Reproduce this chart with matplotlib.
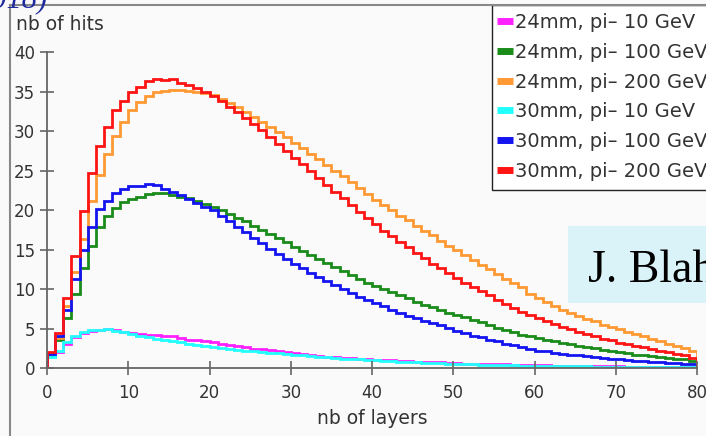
import numpy as np
import matplotlib
matplotlib.use("Agg")
import matplotlib.pyplot as plt
from matplotlib.lines import Line2D
from matplotlib.patches import Rectangle

W, H = 706, 436

# ── histogram contents (nb of hits per layer, 80 layers) ──
edges = np.arange(0, 81)

h24_10 = [1.5, 2.0, 3.1, 3.9, 4.4, 4.65, 4.8, 4.9, 4.75, 4.6,
          4.4, 4.3, 4.2, 4.2, 4.1, 4.0, 3.8, 3.6, 3.5, 3.4,
          3.3, 3.1, 2.9, 2.8, 2.6, 2.45, 2.4, 2.25, 2.1, 2.0,
          1.85, 1.75, 1.65, 1.55, 1.45, 1.4, 1.3, 1.25, 1.2, 1.1,
          1.05, 1.0, 0.95, 0.9, 0.85, 0.8, 0.75, 0.7, 0.7, 0.65,
          0.6, 0.55, 0.55, 0.5, 0.5, 0.45, 0.45, 0.4, 0.4, 0.38,
          0.35, 0.33, 0.3, 0.3, 0.28, 0.26, 0.25, 0.23, 0.22, 0.2,
          0.2, 0.18, 0.17, 0.16, 0.15, 0.14, 0.13, 0.12, 0.12, 0.11]

h24_100 = [1.6, 3.5, 6.3, 9.4, 12.6, 15.5, 17.8, 19.3, 20.3, 21.0,
           21.4, 21.7, 22.0, 22.1, 22.1, 21.9, 21.7, 21.5, 21.2, 20.7,
           20.4, 20.0, 19.5, 19.0, 18.6, 18.0, 17.5, 17.0, 16.5, 15.9,
           15.3, 14.8, 14.3, 13.8, 13.3, 12.8, 12.3, 11.8, 11.3, 10.8,
           10.4, 10.0, 9.6, 9.2, 8.8, 8.4, 8.0, 7.7, 7.3, 7.0,
           6.7, 6.4, 6.1, 5.8, 5.5, 5.1, 4.8, 4.5, 4.2, 4.0,
           3.8, 3.6, 3.4, 3.2, 3.0, 2.8, 2.6, 2.5, 2.3, 2.2,
           2.0, 1.9, 1.7, 1.6, 1.5, 1.4, 1.3, 1.2, 1.1, 0.9]

h24_200 = [1.8, 3.8, 7.8, 12.1, 16.3, 21.1, 24.4, 27.1, 29.4, 31.2,
           32.7, 33.7, 34.4, 34.9, 35.1, 35.2, 35.2, 35.1, 35.0, 34.8,
           34.5, 34.0, 33.5, 33.0, 32.4, 31.8, 31.2, 30.5, 29.9, 29.2,
           28.5, 27.8, 27.1, 26.4, 25.7, 25.0, 24.3, 23.6, 22.8, 22.0,
           21.3, 20.6, 20.0, 19.3, 18.7, 18.0, 17.4, 16.8, 16.1, 15.5,
           14.9, 14.3, 13.7, 13.1, 12.5, 11.9, 11.3, 10.8, 10.2, 9.4,
           8.8, 8.3, 7.9, 7.4, 7.0, 6.6, 6.2, 5.9, 5.5, 5.2,
           4.9, 4.6, 4.3, 4.0, 3.7, 3.4, 3.1, 2.8, 2.5, 2.1]

h30_10 = [1.4, 2.2, 3.3, 4.1, 4.6, 4.8, 4.8, 4.9, 4.7, 4.5,
          4.3, 4.1, 3.9, 3.7, 3.6, 3.4, 3.3, 3.1, 2.95, 2.8,
          2.65, 2.5, 2.45, 2.3, 2.2, 2.1, 2.05, 1.9, 1.85, 1.8,
          1.7, 1.6, 1.5, 1.4, 1.35, 1.3, 1.2, 1.15, 1.1, 1.0,
          0.95, 0.9, 0.85, 0.8, 0.75, 0.7, 0.65, 0.6, 0.6, 0.55,
          0.5, 0.48, 0.45, 0.42, 0.4, 0.38, 0.35, 0.33, 0.3, 0.28,
          0.27, 0.25, 0.24, 0.22, 0.21, 0.2, 0.19, 0.18, 0.17, 0.16,
          0.15, 0.14, 0.13, 0.12, 0.12, 0.11, 0.1, 0.1, 0.09, 0.09]

h30_100 = [1.8, 4.0, 7.3, 11.3, 15.0, 17.9, 20.1, 21.2, 22.2, 22.7,
           23.0, 23.1, 23.3, 23.2, 22.7, 22.3, 21.9, 21.4, 20.9, 20.4,
           20.0, 19.3, 18.6, 17.9, 17.2, 16.5, 15.8, 15.1, 14.4, 13.8,
           13.2, 12.6, 12.0, 11.5, 11.0, 10.5, 10.0, 9.5, 9.0, 8.6,
           8.2, 7.8, 7.4, 7.0, 6.6, 6.3, 6.0, 5.7, 5.4, 5.1,
           4.7, 4.4, 4.1, 3.9, 3.6, 3.4, 3.1, 2.9, 2.6, 2.4,
           2.2, 2.1, 1.9, 1.8, 1.7, 1.6, 1.5, 1.4, 1.3, 1.2,
           1.1, 1.0, 0.9, 0.85, 0.8, 0.7, 0.65, 0.6, 0.5, 0.45]

h30_200 = [2.0, 4.4, 8.9, 14.2, 19.9, 24.7, 28.1, 30.5, 32.6, 33.8,
           34.9, 35.6, 36.3, 36.6, 36.5, 36.6, 36.1, 35.8, 35.4, 34.9,
           34.4, 33.8, 33.1, 32.4, 31.7, 30.9, 30.1, 29.3, 28.4, 27.5,
           26.6, 25.8, 24.9, 24.0, 23.2, 22.3, 21.5, 20.6, 19.8, 19.0,
           18.2, 17.4, 16.7, 16.0, 15.3, 14.6, 13.9, 13.2, 12.6, 12.0,
           11.4, 10.8, 10.3, 9.8, 9.3, 8.6, 8.1, 7.6, 7.1, 6.7,
           6.3, 5.9, 5.6, 5.2, 4.9, 4.6, 4.3, 4.0, 3.7, 3.5,
           3.2, 3.0, 2.8, 2.6, 2.4, 2.2, 2.0, 1.8, 1.6, 1.3]

series = [
    ('24mm, pi\u2013 10 GeV',  h24_10,  '#ff22ff'),
    ('24mm, pi\u2013 100 GeV', h24_100, '#1a8c1a'),
    ('24mm, pi\u2013 200 GeV', h24_200, '#ff9933'),
    ('30mm, pi\u2013 10 GeV',  h30_10,  '#22ffff'),
    ('30mm, pi\u2013 100 GeV', h30_100, '#1414f0'),
    ('30mm, pi\u2013 200 GeV', h30_200, '#ff1414'),
]

TXT = '#333333'
AXC = '#666666'

fig = plt.figure(figsize=(W/100, H/100), dpi=100, facecolor='#fafafa')

# outer frame of the embedded plot
fig.add_artist(Line2D([10/W, 10/W], [0, 1-5/H], color='#888888', lw=1.5))
fig.add_artist(Line2D([10/W, 1], [1-5/H, 1-5/H], color='#888888', lw=1.5))

ax = fig.add_axes([47/W, 1-368/H, 650/W, 316/H])
ax.set_facecolor('none')

for lab, vals, col in series:
    ax.stairs(vals, edges, color=col, lw=2, baseline=0)

ax.set_xlim(0, 80)
ax.set_ylim(0, 40)
ax.set_xticks(range(0, 81, 10))
ax.set_yticks(range(0, 41, 5))
for s in ('top', 'right'):
    ax.spines[s].set_visible(False)
for s in ('left', 'bottom'):
    ax.spines[s].set_color(AXC)
    ax.spines[s].set_linewidth(1.3)
ax.tick_params(axis='both', direction='inout', length=10, width=1.2,
               color=AXC, labelcolor=TXT, labelsize=12)
ax.tick_params(axis='x', pad=6.5)
ax.tick_params(axis='y', pad=3.5)

fig.text(16/W, 1-24/H, 'nb of hits', fontsize=13.5, color=TXT, va='center', ha='left')
fig.text(372/W, 1-418/H, 'nb of layers', fontsize=13.5, color=TXT, va='center', ha='center')

# legend box (runs past the right edge, as in the screenshot)
fig.add_artist(Rectangle((492/W, 1-190/H), 0.5, 185/H, transform=fig.transFigure,
                         facecolor='white', edgecolor='#222222', lw=1.0))
handles = [Line2D([], [], color=c, lw=5, solid_capstyle='butt') for _, _, c in series]
labels = [l for l, _, _ in series]
leg = fig.legend(handles, labels, loc='upper left',
                 bbox_to_anchor=(489/W, 1-5/H), bbox_transform=fig.transFigure,
                 fontsize=14, frameon=False,
                 handlelength=0.8, handletextpad=0.12, borderpad=0.42,
                 labelspacing=0.55, borderaxespad=0)
for t in leg.get_texts():
    t.set_color(TXT)

# slide overlay: author tag box
fig.add_artist(Rectangle((568/W, 1-303/H), 0.3, 77/H, transform=fig.transFigure,
                         facecolor='#daf3f8', edgecolor='none'))
fig.text(588/W, 1-282/H, 'J. Blah', fontsize=33, family='Liberation Serif',
         color='black', va='baseline', ha='left')
fig.text(48/W, 1-7/H, '2018)', fontsize=22, family='Liberation Serif',
         style='italic', color='#1f2a9c', va='baseline', ha='right')

fig.savefig('out.png', dpi=100, facecolor=fig.get_facecolor())
